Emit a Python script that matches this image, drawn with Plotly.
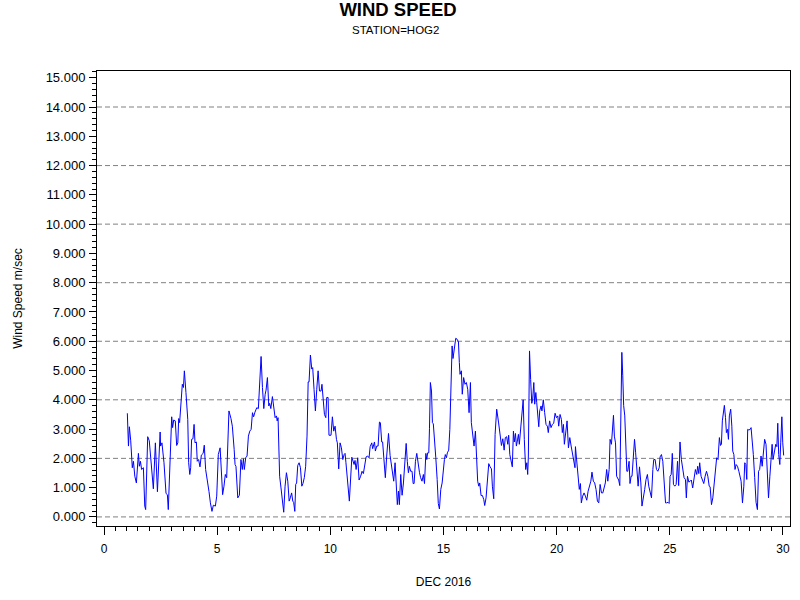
import plotly.graph_objects as go

# Hourly-ish wind speed at HOG2 (day of month, m/sec)
day = [
    1.03, 1.08, 1.12, 1.18, 1.25, 1.30, 1.36, 1.43, 1.52, 1.56, 1.61, 1.66, 1.74, 1.80, 1.84, 1.93,
    2.00, 2.08, 2.18, 2.27, 2.36, 2.48, 2.50, 2.56, 2.65, 2.74, 2.80, 2.84, 2.95, 2.99, 3.03, 3.08,
    3.15, 3.21, 3.26, 3.30, 3.34, 3.42, 3.46, 3.51, 3.55, 3.62, 3.70, 3.74, 3.79, 3.83, 3.87, 3.93,
    3.98, 4.02, 4.08, 4.12, 4.18, 4.24, 4.30, 4.38, 4.43, 4.49, 4.57, 4.64, 4.70, 4.77, 4.83, 4.92,
    4.98, 5.05, 5.13, 5.20, 5.24, 5.30, 5.36, 5.42, 5.49, 5.52, 5.61,
    5.67, 5.75, 5.79, 5.83, 5.91, 5.98, 6.05, 6.11, 6.16, 6.20, 6.26, 6.32, 6.38, 6.44, 6.50, 6.56,
    6.61, 6.67, 6.75, 6.82, 6.88, 6.94, 7.00, 7.06, 7.12, 7.16, 7.22, 7.28, 7.32, 7.37, 7.44, 7.50,
    7.56, 7.62, 7.65, 7.69, 7.72, 7.76, 7.82, 7.88, 7.94, 8.00, 8.06, 8.12, 8.18, 8.23, 8.29, 8.34,
    8.38, 8.43, 8.47, 8.51, 8.56, 8.62, 8.68, 8.74, 8.79, 8.85, 8.91, 8.97, 9.02, 9.06, 9.12, 9.18,
    9.22, 9.28, 9.34, 9.40, 9.46, 9.52, 9.59, 9.63, 9.69, 9.74, 9.80, 9.84, 9.90, 9.94, 10.03, 10.09,
    10.15, 10.21, 10.27, 10.31, 10.37, 10.43, 10.49, 10.55, 10.61, 10.65,
    10.69, 10.75, 10.84, 10.95, 10.99, 11.05, 11.09, 11.14, 11.21, 11.27, 11.34, 11.40, 11.46, 11.52,
    11.58, 11.65, 11.71, 11.76, 11.83, 11.87, 11.95, 11.99, 12.05, 12.11, 12.17, 12.21, 12.27, 12.31,
    12.37, 12.43, 12.49, 12.57, 12.64, 12.68, 12.74, 12.80, 12.86, 12.90, 12.96, 13.01, 13.05, 13.11,
    13.17, 13.23, 13.29, 13.35, 13.40, 13.45, 13.49, 13.55, 13.61, 13.66, 13.70, 13.76, 13.82, 13.88,
    13.94, 13.99, 14.05, 14.11, 14.16, 14.22, 14.26, 14.30, 14.35, 14.38, 14.42, 14.47, 14.51, 14.55,
    14.60, 14.66, 14.72, 14.77, 14.82, 14.88, 14.94, 15.00, 15.04, 15.08, 15.13, 15.17, 15.23, 15.28,
    15.32, 15.38, 15.42, 15.48, 15.54, 15.60, 15.66, 15.70, 15.73,
    15.79, 15.83, 15.89, 15.95, 16.01, 16.07, 16.13, 16.19, 16.23, 16.29, 16.35, 16.41, 16.45, 16.51,
    16.56, 16.60, 16.66, 16.72, 16.78, 16.82, 16.88, 16.94, 17.00, 17.06, 17.12, 17.16, 17.22, 17.28,
    17.35, 17.43, 17.50, 17.56, 17.62, 17.68, 17.73, 17.79, 17.84, 17.88, 17.93, 17.99, 18.04, 18.09,
    18.13, 18.18, 18.22, 18.27, 18.31, 18.35, 18.41, 18.47, 18.52, 18.57, 18.63, 18.68, 18.72, 18.75,
    18.80, 18.85, 18.90, 18.94, 18.99, 19.03, 19.08, 19.12, 19.16, 19.21, 19.25, 19.31, 19.35, 19.41,
    19.47, 19.53, 19.59, 19.63, 19.69, 19.75, 19.81, 19.87, 19.93, 19.99, 20.05, 20.09, 20.15, 20.21,
    20.25, 20.30, 20.34, 20.40, 20.46, 20.52, 20.58, 20.64, 20.70, 20.75, 20.81,
    20.83, 20.89, 20.95, 21.00, 21.05, 21.09, 21.15, 21.21, 21.27, 21.33, 21.39, 21.45, 21.51, 21.56,
    21.62, 21.68, 21.74, 21.80, 21.86, 21.92, 21.98, 22.04, 22.09, 22.15, 22.21, 22.26, 22.32, 22.36,
    22.42, 22.46, 22.51, 22.55, 22.60, 22.65, 22.70, 22.74, 22.79, 22.83, 22.88, 22.92, 22.96, 23.01,
    23.05, 23.10, 23.14, 23.20, 23.24, 23.29, 23.33, 23.39, 23.44, 23.49, 23.54, 23.60, 23.66, 23.72,
    23.77, 23.83, 23.89, 23.95, 24.01, 24.07, 24.13, 24.19, 24.25, 24.29, 24.35, 24.41, 24.47, 24.53,
    24.57, 24.63, 24.69, 24.75, 24.81, 24.86, 24.92, 24.97, 25.01, 25.06, 25.11, 25.16, 25.22, 25.28,
    25.34, 25.39, 25.45, 25.51, 25.57, 25.63, 25.69, 25.73, 25.78, 25.84, 25.90,
    25.95, 26.01, 26.07, 26.13, 26.19, 26.23, 26.28, 26.32, 26.38, 26.44, 26.50, 26.56, 26.62, 26.68,
    26.74, 26.78, 26.84, 26.90, 26.96, 27.01, 27.07, 27.13, 27.19, 27.24, 27.28, 27.32, 27.37, 27.41,
    27.46, 27.50, 27.55, 27.59, 27.63, 27.69, 27.74, 27.78, 27.83, 27.88, 27.93, 27.99, 28.05, 28.10,
    28.15, 28.21, 28.27, 28.31, 28.36, 28.40, 28.44, 28.49, 28.55, 28.59, 28.64, 28.69, 28.75, 28.81,
    28.87, 28.92, 28.97, 29.03, 29.08, 29.14, 29.19, 29.25, 29.31, 29.36, 29.42, 29.47, 29.52, 29.56,
    29.62, 29.68, 29.73, 29.77, 29.81, 29.86, 29.90, 29.95, 29.99, 30.03,
]

speed = [
    3.54, 2.42, 3.08, 2.60, 1.68, 1.90, 1.39, 1.16, 2.17, 1.73, 1.90, 1.62, 1.68, 0.37, 0.25, 2.74,
    2.60, 1.85, 0.96, 2.53, 0.86, 2.90, 2.42, 2.53, 1.85, 0.80, 0.76, 0.25, 3.10, 3.42, 3.05, 3.31,
    3.28, 2.44, 2.53, 3.36, 3.22, 4.13, 4.53, 4.42, 4.99, 4.25, 3.33, 1.85, 1.45, 1.68, 2.65, 2.67,
    3.16, 2.53, 2.56, 1.90, 1.96, 1.71, 2.11, 2.17, 2.45, 1.62, 1.28, 0.86, 0.48, 0.19, 0.40, 0.37,
    0.71, 2.13, 2.36, 1.28, 0.76, 1.05, 1.45, 1.34, 2.99, 3.62, 3.36,
    3.10, 2.31, 1.79, 1.73, 0.65, 0.74, 1.96, 1.62, 1.99, 1.62, 2.02, 2.08, 2.76, 2.93, 2.99, 3.56,
    3.42, 3.58, 3.73, 3.70, 4.82, 5.48, 4.42, 3.70, 4.19, 4.33, 4.76, 3.79, 3.88, 3.70, 4.11, 3.73,
    3.39, 3.45, 3.28, 3.39, 1.96, 1.39, 0.99, 0.48, 0.16, 1.05, 1.51, 1.22, 0.54, 0.65, 0.82, 0.54,
    0.50, 0.19, 1.11, 1.16, 1.76, 1.85, 1.68, 1.05, 1.14, 1.34, 1.73, 2.76, 4.61, 4.61, 5.53, 5.05,
    5.10, 4.36, 3.62, 4.36, 4.99, 4.30, 4.30, 4.53, 3.96, 3.50, 3.39, 4.08, 4.08, 2.79, 2.79, 3.42,
    2.93, 3.10, 2.65, 2.53, 1.64, 2.53, 2.36, 1.96, 2.13, 2.17,
    1.85, 1.22, 0.54, 2.04, 1.93, 1.79, 1.93, 1.62, 2.02, 1.26, 1.39, 1.56, 1.48, 1.73,
    2.05, 2.08, 2.02, 2.40, 2.53, 2.33, 2.56, 2.25, 2.42, 2.42, 3.24, 3.22, 2.56, 2.56,
    1.85, 1.34, 2.08, 2.85, 2.10, 1.85, 1.39, 1.22, 1.85, 1.11, 0.42, 0.88, 0.42, 1.45,
    0.74, 1.16, 1.85, 2.51, 1.90, 1.51, 1.73, 1.56, 1.56, 1.14, 1.14, 1.90, 2.17, 1.79,
    1.51, 1.34, 1.22, 1.45, 1.14, 2.17, 1.96, 2.19, 2.19, 3.01, 4.59, 4.30, 3.22, 3.18,
    2.76, 2.02, 1.28, 0.46, 0.27, 0.94, 1.16, 1.76, 1.96, 2.13, 2.02, 2.19, 2.28, 2.99,
    4.13, 5.84, 5.41, 5.73, 6.10, 6.07, 5.98, 5.27, 4.87,
    4.99, 4.19, 4.76, 4.53, 4.59, 4.36, 3.56, 4.59, 3.22, 2.88, 2.42, 2.93, 1.96, 1.22,
    1.05, 1.16, 0.73, 0.73, 0.59, 0.39, 0.65, 1.39, 1.82, 1.71, 1.64, 1.05, 0.62, 2.82,
    3.68, 3.24, 2.76, 2.44, 2.67, 2.28, 2.71, 2.74, 2.48, 2.79, 2.13, 1.90, 1.71, 2.93,
    2.56, 2.85, 2.42, 2.63, 2.82, 2.48, 2.99, 3.56, 4.00, 2.65, 1.62, 1.85, 1.45, 2.08,
    5.67, 4.70, 3.88, 4.02, 4.59, 3.85, 4.25, 3.90, 3.47, 3.08, 3.62, 3.79, 3.62, 4.00,
    3.56, 3.16, 3.10, 2.88, 3.28, 3.05, 3.16, 3.20, 3.54, 3.39, 3.45, 3.10, 3.50, 3.33,
    2.88, 3.16, 2.48, 2.99, 3.28, 2.36, 2.71, 2.42, 2.17, 2.02, 1.68,
    2.40, 1.85, 1.39, 0.94, 1.14, 0.48, 0.71, 0.82, 0.71, 0.57, 0.88, 1.03, 1.22, 1.53,
    1.22, 1.16, 0.94, 0.54, 0.48, 1.11, 0.82, 0.82, 0.99, 1.16, 1.62, 1.22, 1.62, 2.65,
    2.48, 2.99, 3.47, 2.76, 2.53, 1.39, 1.28, 1.26, 1.07, 2.99, 5.62, 4.82, 3.81, 3.45,
    2.65, 1.56, 1.56, 1.90, 1.14, 1.39, 1.39, 2.31, 2.65, 2.19, 1.51, 1.05, 1.71, 1.16,
    0.37, 0.76, 0.94, 1.28, 1.45, 1.05, 0.82, 0.65, 1.62, 1.96, 1.96, 1.62, 1.56, 1.68,
    2.05, 2.13, 1.90, 1.16, 0.48, 0.48, 0.50, 0.46, 1.39, 1.45, 2.17, 1.11, 1.05, 1.11,
    1.90, 1.07, 2.56, 1.96, 1.68, 1.34, 1.28, 0.65, 1.39, 1.19, 1.22,
    1.26, 0.99, 1.28, 1.62, 1.45, 1.73, 1.48, 1.85, 1.39, 1.22, 1.14, 1.39, 1.56, 1.39,
    1.05, 1.03, 0.42, 0.65, 1.16, 1.51, 2.02, 1.96, 2.71, 2.44, 2.48, 3.28, 3.50, 3.81,
    3.39, 2.88, 2.99, 2.65, 3.45, 3.68, 3.10, 2.25, 2.13, 1.62, 1.79, 1.73, 1.56, 1.39,
    1.22, 0.48, 1.05, 1.85, 1.79, 1.28, 2.99, 2.97, 2.99, 3.05, 2.65, 2.13, 1.34, 0.50,
    0.25, 1.56, 1.62, 2.08, 1.73, 2.31, 2.65, 2.48, 1.62, 0.65, 1.39, 1.96, 2.48, 1.96,
    2.31, 2.48, 2.40, 3.20, 2.13, 1.79, 2.53, 3.42, 2.53, 2.10,
]

grid_levels = [0, 2, 4, 6, 8, 10, 12, 14]

FONT = "Liberation Sans, Arial, Helvetica, sans-serif"

fig = go.Figure()

fig.add_trace(
    go.Scatter(
        x=day,
        y=speed,
        mode="lines",
        line=dict(color="#0000ff", width=1),
        hoverinfo="x+y",
    )
)

# dashed reference lines at every other major tick
for level in grid_levels:
    fig.add_hline(
        y=level,
        line=dict(color="#808080", width=1, dash="5px,3px"),
        layer="below",
    )

fig.update_xaxes(
    range=[-0.31, 30.31],
    tick0=0,
    dtick=5,
    ticks="outside",
    ticklen=8,
    tickcolor="black",
    tickfont=dict(size=12),
    ticklabelstandoff=4,
    minor=dict(dtick=0.5, ticks="outside", ticklen=4, tickcolor="black"),
    showline=True,
    mirror=True,
    linecolor="black",
    linewidth=1,
    showgrid=False,
    zeroline=False,
    automargin=False,
    title=dict(text="DEC 2016", font=dict(size=12), standoff=22),
)

fig.update_yaxes(
    range=[-0.31, 15.23],
    tick0=0,
    dtick=1,
    tickformat=".3f",
    ticks="outside",
    ticklen=7,
    tickcolor="black",
    tickfont=dict(size=13),
    ticklabelstandoff=1,
    minor=dict(dtick=0.2, ticks="outside", ticklen=4, tickcolor="black"),
    showline=True,
    mirror=True,
    linecolor="black",
    linewidth=1,
    showgrid=False,
    zeroline=False,
    automargin=False,
    title=dict(text="Wind Speed m/sec", font=dict(size=12), standoff=20),
)

fig.add_annotation(
    text="STATION=HOG2",
    xref="paper",
    yref="paper",
    x=(395.5 - 97) / 693,
    y=(526 - 30) / 455,
    xanchor="center",
    yanchor="middle",
    showarrow=False,
    font=dict(size=11.5),
)

fig.update_layout(
    width=800,
    height=600,
    margin=dict(l=97, r=10, t=71, b=74, autoexpand=False),
    plot_bgcolor="white",
    paper_bgcolor="white",
    showlegend=False,
    font=dict(family=FONT, size=12, color="black"),
    title=dict(
        text="<b>WIND SPEED</b>",
        x=398 / 800,
        xanchor="center",
        y=1 - 10 / 600,
        yanchor="middle",
        font=dict(size=18.5),
        automargin=False,
    ),
)

# page body margin would push the figure 8px off the window origin
fig.write_html(
    "out.html",
    config={"displayModeBar": False},
    post_script="document.body.style.margin = '0';",
)
